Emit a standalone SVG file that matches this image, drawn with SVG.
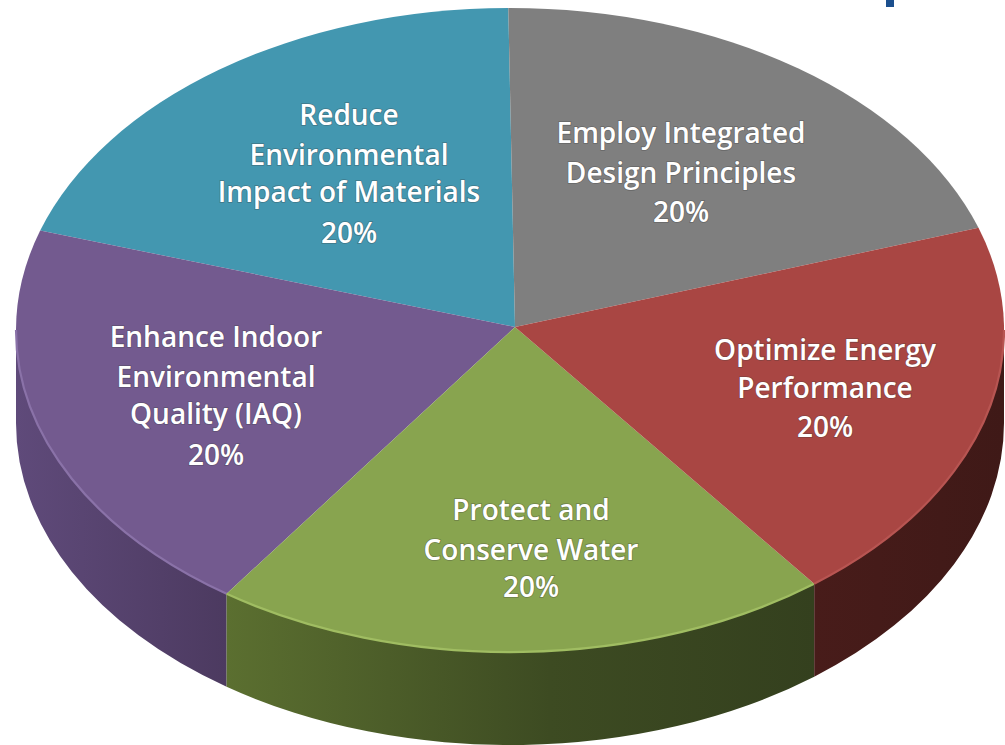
<svg xmlns="http://www.w3.org/2000/svg" width="1005" height="745" viewBox="0 0 1005 745">
<style>
.lbl{font-family:"Open Sans",Lato,"Liberation Sans",sans-serif;font-weight:600;font-size:28px;fill:#ffffff;text-anchor:middle;stroke:#3a3a3a;stroke-opacity:0.35;stroke-width:1.6px;paint-order:stroke}
.rim{fill:none;stroke-width:2.2}
</style>
<defs>
<linearGradient id="gPurple" gradientUnits="userSpaceOnUse" x1="16" y1="0" x2="227" y2="0">
<stop offset="0" stop-color="#5f4a7a"/><stop offset="1" stop-color="#4c3a60"/>
</linearGradient>
<linearGradient id="gGreen" gradientUnits="userSpaceOnUse" x1="227" y1="0" x2="814" y2="0">
<stop offset="0" stop-color="#5b6f30"/><stop offset="0.55" stop-color="#3d4b22"/><stop offset="1" stop-color="#34401e"/>
</linearGradient>
<linearGradient id="gRed" gradientUnits="userSpaceOnUse" x1="814" y1="0" x2="1004" y2="0">
<stop offset="0" stop-color="#481c1a"/><stop offset="1" stop-color="#3f1917"/>
</linearGradient>
</defs>
<rect width="1005" height="745" fill="#ffffff"/>
<rect x="886" y="0" width="8" height="7" fill="#1b4f8e"/>

<g id="slice-materials">
<path d="M515,327 L508.3,8 A494,322 0 0 0 40.2,230.5 Z" fill="#4397b0"/>
<text class="lbl" x="349" y="125">Reduce</text>
<text class="lbl" x="349" y="165">Environmental</text>
<text class="lbl" x="349" y="202">Impact of Materials</text>
<text class="lbl" x="349" y="243">20%</text>
</g>

<g id="slice-design">
<path d="M515,327 L978.5,227.8 A494,322 0 0 0 508.3,8 Z" fill="#7f7f7f"/>
<text class="lbl" x="681" y="143">Employ Integrated</text>
<text class="lbl" x="681" y="183">Design Principles</text>
<text class="lbl" x="681" y="222">20%</text>
</g>

<g id="slice-iaq">
<path d="M16,330 A494,322 0 0 0 226.6,593.8 L226.6,686.8 A494,322 0 0 1 16,423 Z" fill="url(#gPurple)"/>
<path d="M515,327 L40.2,230.5 A494,322 0 0 0 226.6,593.8 Z" fill="#735a8f"/>
<path class="rim" d="M16,330 A494,322 0 0 0 226.6,593.8" stroke="#8a72a8"/>
<text class="lbl" x="216" y="347">Enhance Indoor</text>
<text class="lbl" x="216" y="387">Environmental</text>
<text class="lbl" x="216" y="424">Quality (IAQ)</text>
<text class="lbl" x="216" y="465">20%</text>
</g>

<g id="slice-water">
<path d="M226.6,593.8 A494,322 0 0 0 814.2,583.7 L814.2,676.7 A494,322 0 0 1 226.6,686.8 Z" fill="url(#gGreen)"/>
<path d="M515,327 L226.6,593.8 A494,322 0 0 0 814.2,583.7 Z" fill="#88a44f"/>
<path class="rim" d="M226.6,593.8 A494,322 0 0 0 814.2,583.7" stroke="#a0bd62"/>
<text class="lbl" x="531" y="520">Protect and</text>
<text class="lbl" x="531" y="560">Conserve Water</text>
<text class="lbl" x="531" y="597">20%</text>
</g>

<g id="slice-energy">
<path d="M814.2,583.7 A494,322 0 0 0 1004,330 L1004,423 A494,322 0 0 1 814.2,676.7 Z" fill="url(#gRed)"/>
<path d="M515,327 L814.2,583.7 A494,322 0 0 0 978.5,227.8 Z" fill="#a94643"/>
<path class="rim" d="M814.2,583.7 A494,322 0 0 0 1004,330" stroke="#b85552"/>
<text class="lbl" x="825" y="360">Optimize Energy</text>
<text class="lbl" x="825" y="398">Performance</text>
<text class="lbl" x="825" y="437">20%</text>
</g>

<g id="connectors"/>
</svg>
